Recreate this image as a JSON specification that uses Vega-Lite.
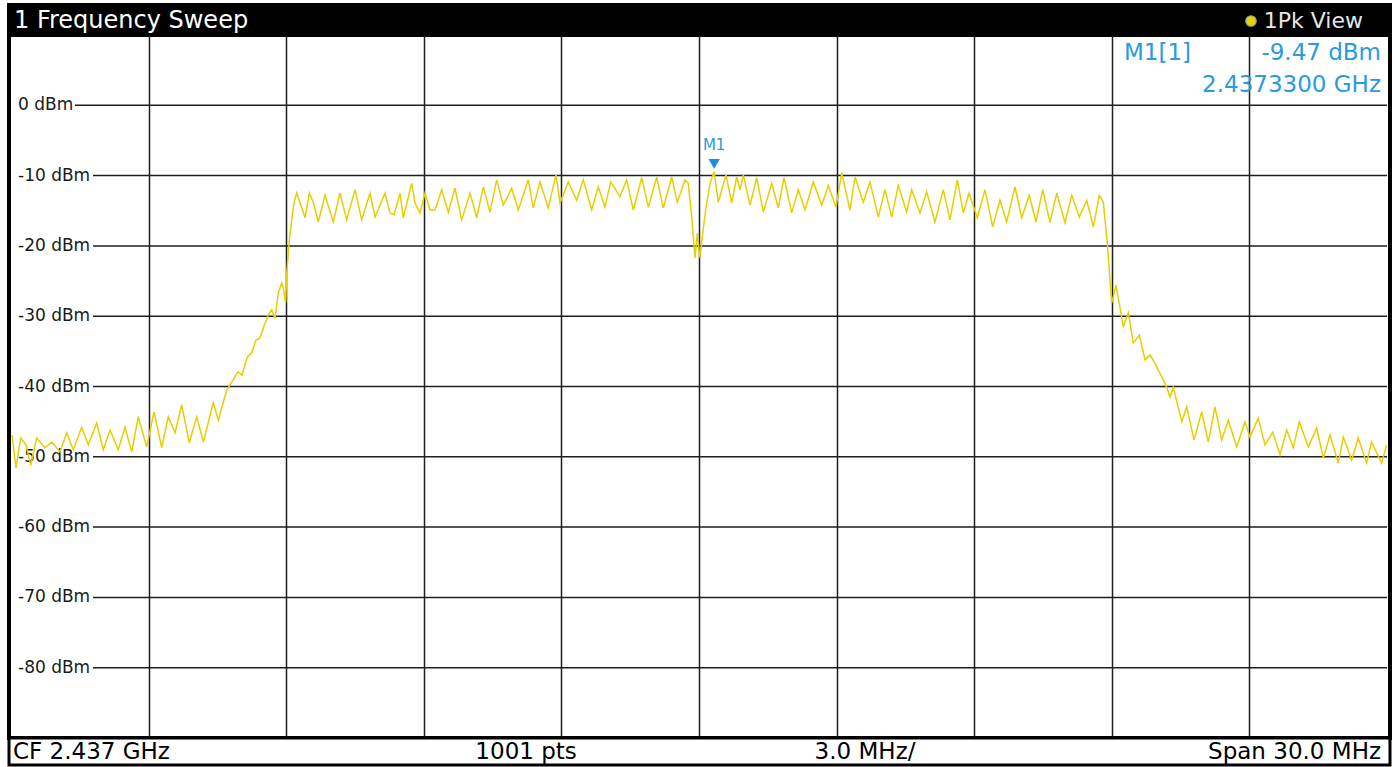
{
  "$schema": "https://vega.github.io/schema/vega-lite/v6.json",
  "background": "white",
  "padding": {"left": 7, "top": 3, "right": 8, "bottom": 3},
  "spacing": 0,
  "bounds": "flush",
  "config": {"view": {"stroke": null}, "font": "DejaVu Sans", "axis": {"gridOpacity": 1}},
  "datasets": {
    "trace": [
      {"f":2422.022,"p":-46.9},{"f":2422.109,"p":-51.6},{"f":2422.211,"p":-47.3},{"f":2422.327,"p":-48.3},{"f":2422.430,"p":-51.2},
      {"f":2422.560,"p":-47.3},{"f":2422.741,"p":-48.7},{"f":2422.887,"p":-47.9},{"f":2423.068,"p":-49.3},{"f":2423.214,"p":-46.6},
      {"f":2423.358,"p":-49.0},{"f":2423.541,"p":-45.8},{"f":2423.685,"p":-48.3},{"f":2423.868,"p":-45.2},{"f":2424.012,"p":-49.0},
      {"f":2424.158,"p":-46.2},{"f":2424.339,"p":-49.0},{"f":2424.485,"p":-45.8},{"f":2424.632,"p":-49.3},{"f":2424.775,"p":-44.3},
      {"f":2424.959,"p":-48.6},{"f":2425.118,"p":-43.6},{"f":2425.286,"p":-48.7},{"f":2425.429,"p":-44.3},{"f":2425.576,"p":-46.6},
      {"f":2425.722,"p":-42.6},{"f":2425.887,"p":-48.0},{"f":2426.049,"p":-44.3},{"f":2426.193,"p":-47.9},{"f":2426.411,"p":-42.3},
      {"f":2426.520,"p":-44.8},{"f":2426.703,"p":-40.5},{"f":2426.840,"p":-39.1},{"f":2426.949,"p":-37.9},{"f":2427.036,"p":-38.4},
      {"f":2427.145,"p":-35.9},{"f":2427.254,"p":-35.1},{"f":2427.342,"p":-33.4},{"f":2427.429,"p":-33.1},{"f":2427.516,"p":-31.4},
      {"f":2427.610,"p":-29.8},{"f":2427.684,"p":-29.1},{"f":2427.756,"p":-30.3},{"f":2427.829,"p":-26.6},{"f":2427.902,"p":-25.3},
      {"f":2427.937,"p":-26.0},{"f":2427.989,"p":-28.1},{"f":2428.011,"p":-23.9},{"f":2428.068,"p":-19.2},{"f":2428.120,"p":-16.3},
      {"f":2428.170,"p":-13.9},{"f":2428.229,"p":-12.5},{"f":2428.301,"p":-13.9},{"f":2428.355,"p":-14.9},{"f":2428.410,"p":-16.0},
      {"f":2428.504,"p":-12.5},{"f":2428.591,"p":-13.8},{"f":2428.700,"p":-16.6},{"f":2428.846,"p":-12.8},{"f":2429.027,"p":-16.6},
      {"f":2429.173,"p":-12.5},{"f":2429.319,"p":-16.3},{"f":2429.500,"p":-12.0},{"f":2429.646,"p":-16.3},{"f":2429.827,"p":-12.5},
      {"f":2429.936,"p":-15.9},{"f":2430.154,"p":-12.5},{"f":2430.263,"p":-15.3},{"f":2430.350,"p":-15.6},{"f":2430.481,"p":-12.5},
      {"f":2430.553,"p":-16.0},{"f":2430.736,"p":-11.1},{"f":2430.808,"p":-13.9},{"f":2430.917,"p":-15.3},{"f":2431.026,"p":-12.5},
      {"f":2431.135,"p":-14.9},{"f":2431.244,"p":-14.9},{"f":2431.390,"p":-12.0},{"f":2431.534,"p":-15.2},{"f":2431.680,"p":-11.8},
      {"f":2431.826,"p":-16.3},{"f":2432.007,"p":-12.5},{"f":2432.153,"p":-16.0},{"f":2432.297,"p":-11.6},{"f":2432.443,"p":-15.2},
      {"f":2432.589,"p":-10.6},{"f":2432.733,"p":-14.2},{"f":2432.916,"p":-11.8},{"f":2433.060,"p":-14.9},{"f":2433.278,"p":-10.6},
      {"f":2433.387,"p":-14.6},{"f":2433.533,"p":-10.9},{"f":2433.714,"p":-14.6},{"f":2433.882,"p":-9.9},{"f":2433.970,"p":-13.9},
      {"f":2434.150,"p":-10.9},{"f":2434.333,"p":-13.5},{"f":2434.477,"p":-10.6},{"f":2434.660,"p":-14.9},{"f":2434.804,"p":-11.6},
      {"f":2434.950,"p":-14.5},{"f":2435.075,"p":-10.9},{"f":2435.277,"p":-13.0},{"f":2435.423,"p":-10.6},{"f":2435.568,"p":-14.9},
      {"f":2435.751,"p":-10.3},{"f":2435.895,"p":-14.5},{"f":2436.078,"p":-10.2},{"f":2436.221,"p":-14.6},{"f":2436.405,"p":-10.2},
      {"f":2436.527,"p":-13.8},{"f":2436.695,"p":-10.6},{"f":2436.767,"p":-11.1},{"f":2436.841,"p":-15.9},{"f":2436.913,"p":-21.7},
      {"f":2436.963,"p":-18.2},{"f":2437.022,"p":-21.7},{"f":2437.081,"p":-18.2},{"f":2437.153,"p":-14.5},{"f":2437.240,"p":-11.1},
      {"f":2437.330,"p":-9.47},{"f":2437.421,"p":-13.8},{"f":2437.588,"p":-9.9},{"f":2437.713,"p":-13.9},{"f":2437.822,"p":-10.2},
      {"f":2437.894,"p":-12.0},{"f":2437.966,"p":-9.9},{"f":2438.112,"p":-14.2},{"f":2438.258,"p":-10.3},{"f":2438.402,"p":-15.2},
      {"f":2438.585,"p":-11.1},{"f":2438.729,"p":-14.6},{"f":2438.853,"p":-10.3},{"f":2439.021,"p":-15.3},{"f":2439.165,"p":-12.0},
      {"f":2439.311,"p":-14.9},{"f":2439.492,"p":-10.9},{"f":2439.675,"p":-14.2},{"f":2439.819,"p":-11.4},{"f":2439.987,"p":-14.5},
      {"f":2440.111,"p":-9.6},{"f":2440.292,"p":-14.9},{"f":2440.401,"p":-10.2},{"f":2440.582,"p":-13.8},{"f":2440.728,"p":-10.9},
      {"f":2440.909,"p":-15.9},{"f":2441.055,"p":-12.0},{"f":2441.201,"p":-15.9},{"f":2441.345,"p":-11.4},{"f":2441.528,"p":-15.2},
      {"f":2441.637,"p":-12.0},{"f":2441.818,"p":-15.3},{"f":2441.964,"p":-12.3},{"f":2442.145,"p":-16.6},{"f":2442.326,"p":-12.0},
      {"f":2442.472,"p":-16.3},{"f":2442.632,"p":-10.6},{"f":2442.763,"p":-15.3},{"f":2442.887,"p":-12.5},{"f":2443.068,"p":-16.0},
      {"f":2443.235,"p":-12.0},{"f":2443.403,"p":-17.3},{"f":2443.562,"p":-13.5},{"f":2443.708,"p":-16.6},{"f":2443.890,"p":-11.6},
      {"f":2444.036,"p":-16.0},{"f":2444.201,"p":-12.8},{"f":2444.347,"p":-16.6},{"f":2444.494,"p":-12.0},{"f":2444.652,"p":-16.7},
      {"f":2444.799,"p":-12.5},{"f":2444.980,"p":-16.7},{"f":2445.126,"p":-12.8},{"f":2445.292,"p":-15.9},{"f":2445.453,"p":-13.5},
      {"f":2445.597,"p":-17.3},{"f":2445.728,"p":-12.8},{"f":2445.815,"p":-13.8},{"f":2445.902,"p":-19.6},{"f":2445.961,"p":-24.9},
      {"f":2445.998,"p":-28.1},{"f":2446.092,"p":-25.6},{"f":2446.251,"p":-31.5},{"f":2446.360,"p":-29.5},{"f":2446.469,"p":-33.8},
      {"f":2446.600,"p":-32.7},{"f":2446.724,"p":-36.2},{"f":2446.833,"p":-35.5},{"f":2446.942,"p":-36.7},{"f":2447.014,"p":-37.7},
      {"f":2447.088,"p":-38.6},{"f":2447.197,"p":-40.1},{"f":2447.269,"p":-41.5},{"f":2447.341,"p":-40.1},{"f":2447.524,"p":-45.0},
      {"f":2447.633,"p":-42.9},{"f":2447.792,"p":-47.6},{"f":2447.960,"p":-43.6},{"f":2448.104,"p":-47.9},{"f":2448.250,"p":-42.9},
      {"f":2448.396,"p":-47.6},{"f":2448.540,"p":-44.8},{"f":2448.723,"p":-48.6},{"f":2448.904,"p":-45.0},{"f":2449.013,"p":-47.2},
      {"f":2449.194,"p":-44.5},{"f":2449.340,"p":-48.3},{"f":2449.508,"p":-46.5},{"f":2449.667,"p":-49.7},{"f":2449.813,"p":-46.2},
      {"f":2449.957,"p":-48.7},{"f":2450.088,"p":-45.0},{"f":2450.284,"p":-48.6},{"f":2450.467,"p":-45.9},{"f":2450.611,"p":-50.2},
      {"f":2450.757,"p":-46.9},{"f":2450.938,"p":-50.9},{"f":2451.047,"p":-47.2},{"f":2451.230,"p":-50.5},{"f":2451.372,"p":-47.3},
      {"f":2451.555,"p":-50.9},{"f":2451.664,"p":-47.9},{"f":2451.882,"p":-50.9},{"f":2451.991,"p":-48.3}
    ],
    "ylabels": [
      {"v":0,"t":"0 dBm"},{"v":-10,"t":"-10 dBm"},{"v":-20,"t":"-20 dBm"},{"v":-30,"t":"-30 dBm"},{"v":-40,"t":"-40 dBm"},
      {"v":-50,"t":"-50 dBm"},{"v":-60,"t":"-60 dBm"},{"v":-70,"t":"-70 dBm"},{"v":-80,"t":"-80 dBm"}
    ],
    "marker": [{"f":2437.33,"p":-9.47,"name":"M1"}]
  },
  "vconcat": [
    {
      "width": 1381,
      "height": 30,
      "view": {"fill": "black", "stroke": "black", "strokeWidth": 4},
      "data": {"values": [{"title":"1 Frequency Sweep","mode":"1Pk View"}]},
      "layer": [
        {
          "mark": {"type": "text", "align": "left", "baseline": "middle", "color": "white", "fontSize": 24, "dx": 3, "dy": 1},
          "encoding": {
            "x": {"datum": 2422, "type": "quantitative", "scale": {"domain": [2421.9564, 2452.0654], "nice": false, "zero": false}, "axis": null},
            "text": {"field": "title"}
          }
        },
        {
          "mark": {"type": "text", "align": "right", "baseline": "middle", "color": "#e6e6e6", "fontSize": 22, "dx": -24, "dy": 1},
          "encoding": {
            "x": {"datum": 2452, "type": "quantitative"},
            "text": {"field": "mode"}
          }
        },
        {
          "mark": {"type": "point", "shape": "circle", "filled": true, "fill": "#e8d200", "stroke": "#9a9a9a", "strokeWidth": 1.2, "size": 110, "opacity": 1, "xOffset": -136, "yOffset": 1},
          "encoding": {
            "x": {"datum": 2452, "type": "quantitative"}
          }
        }
      ]
    },
    {
      "width": 1381,
      "height": 703,
      "view": {"fill": "white", "stroke": "black", "strokeWidth": 4},
      "layer": [
        {
          "data": {"name": "ylabels"},
          "transform": [{"filter": "datum.v === 0"}],
          "mark": {"type": "rule", "color": "#1e1e1e", "strokeWidth": 1.5, "xOffset": 64},
          "encoding": {
            "x": {"datum": 2422, "type": "quantitative", "scale": {"domain": [2421.9564, 2452.0654], "nice": false, "zero": false},
              "axis": {"values": [2425,2428,2431,2434,2437,2440,2443,2446,2449], "grid": true, "gridColor": "#1e1e1e", "gridWidth": 1.5, "labels": false, "ticks": false, "domain": false, "title": null, "minExtent": 0, "maxExtent": 0}},
            "x2": {"datum": 2452},
            "y": {"field": "v", "type": "quantitative", "scale": {"domain": [-90, 10], "nice": false, "zero": false}, "axis": null}
          }
        },
        {
          "data": {"name": "ylabels"},
          "transform": [{"filter": "datum.v !== 0"}],
          "mark": {"type": "rule", "color": "#1e1e1e", "strokeWidth": 1.5, "xOffset": 82},
          "encoding": {
            "x": {"datum": 2422, "type": "quantitative"},
            "x2": {"datum": 2452},
            "y": {"field": "v", "type": "quantitative"}
          }
        },
        {
          "data": {"name": "ylabels"},
          "mark": {"type": "text", "align": "left", "baseline": "middle", "fontSize": 17, "dx": 7, "color": "#1a1a1a"},
          "encoding": {
            "x": {"datum": 2422, "type": "quantitative"},
            "y": {"field": "v", "type": "quantitative"},
            "text": {"field": "t"}
          }
        },
        {
          "data": {"name": "trace"},
          "mark": {"type": "line", "color": "#e6cf00", "strokeWidth": 1.5, "clip": true},
          "encoding": {
            "x": {"field": "f", "type": "quantitative"},
            "y": {"field": "p", "type": "quantitative"}
          }
        },
        {
          "data": {"name": "marker"},
          "mark": {"type": "point", "shape": "triangle-down", "filled": true, "color": "#1f8fdc", "size": 130, "opacity": 1, "yOffset": -8},
          "encoding": {
            "x": {"field": "f", "type": "quantitative"},
            "y": {"field": "p", "type": "quantitative"}
          }
        },
        {
          "data": {"name": "marker"},
          "mark": {"type": "text", "align": "center", "baseline": "middle", "fontSize": 15, "color": "#2a9ae0", "dy": -27},
          "encoding": {
            "x": {"field": "f", "type": "quantitative"},
            "y": {"field": "p", "type": "quantitative"},
            "text": {"field": "name"}
          }
        },
        {
          "data": {"values": [{"t": "M1[1]"}]},
          "mark": {"type": "text", "align": "left", "baseline": "middle", "fontSize": 23, "color": "#2a9ae0", "dx": -263, "dy": 18},
          "encoding": {
            "x": {"datum": 2452, "type": "quantitative"},
            "y": {"datum": 10, "type": "quantitative"},
            "text": {"field": "t"}
          }
        },
        {
          "data": {"values": [{"t": "-9.47 dBm"}]},
          "mark": {"type": "text", "align": "right", "baseline": "middle", "fontSize": 23, "color": "#2a9ae0", "dx": -6, "dy": 18},
          "encoding": {
            "x": {"datum": 2452, "type": "quantitative"},
            "y": {"datum": 10, "type": "quantitative"},
            "text": {"field": "t"}
          }
        },
        {
          "data": {"values": [{"t": "2.4373300 GHz"}]},
          "mark": {"type": "text", "align": "right", "baseline": "middle", "fontSize": 23, "color": "#2a9ae0", "dx": -6, "dy": 50},
          "encoding": {
            "x": {"datum": 2452, "type": "quantitative"},
            "y": {"datum": 10, "type": "quantitative"},
            "text": {"field": "t"}
          }
        }
      ]
    },
    {
      "width": 1381,
      "height": 27,
      "view": {"fill": "white", "stroke": "black", "strokeWidth": 3},
      "data": {"values": [
        {"t": "CF 2.437 GHz", "pos": "left"},
        {"t": "1001 pts", "pos": "c1"},
        {"t": "3.0 MHz/", "pos": "c2"},
        {"t": "Span 30.0 MHz", "pos": "right"}
      ]},
      "layer": [
        {
          "transform": [{"filter": "datum.pos === 'left'"}],
          "mark": {"type": "text", "align": "left", "baseline": "middle", "fontSize": 23, "color": "black", "dx": 2},
          "encoding": {
            "x": {"datum": 2422, "type": "quantitative", "scale": {"domain": [2421.9564, 2452.0654], "nice": false, "zero": false}, "axis": null},
            "text": {"field": "t"}
          }
        },
        {
          "transform": [{"filter": "datum.pos === 'c1'"}],
          "mark": {"type": "text", "align": "center", "baseline": "middle", "fontSize": 23, "color": "black"},
          "encoding": {
            "x": {"datum": 2433.23, "type": "quantitative"},
            "text": {"field": "t"}
          }
        },
        {
          "transform": [{"filter": "datum.pos === 'c2'"}],
          "mark": {"type": "text", "align": "center", "baseline": "middle", "fontSize": 23, "color": "black"},
          "encoding": {
            "x": {"datum": 2440.62, "type": "quantitative"},
            "text": {"field": "t"}
          }
        },
        {
          "transform": [{"filter": "datum.pos === 'right'"}],
          "mark": {"type": "text", "align": "right", "baseline": "middle", "fontSize": 23, "color": "black", "dx": -6},
          "encoding": {
            "x": {"datum": 2452, "type": "quantitative"},
            "text": {"field": "t"}
          }
        }
      ]
    }
  ]
}
